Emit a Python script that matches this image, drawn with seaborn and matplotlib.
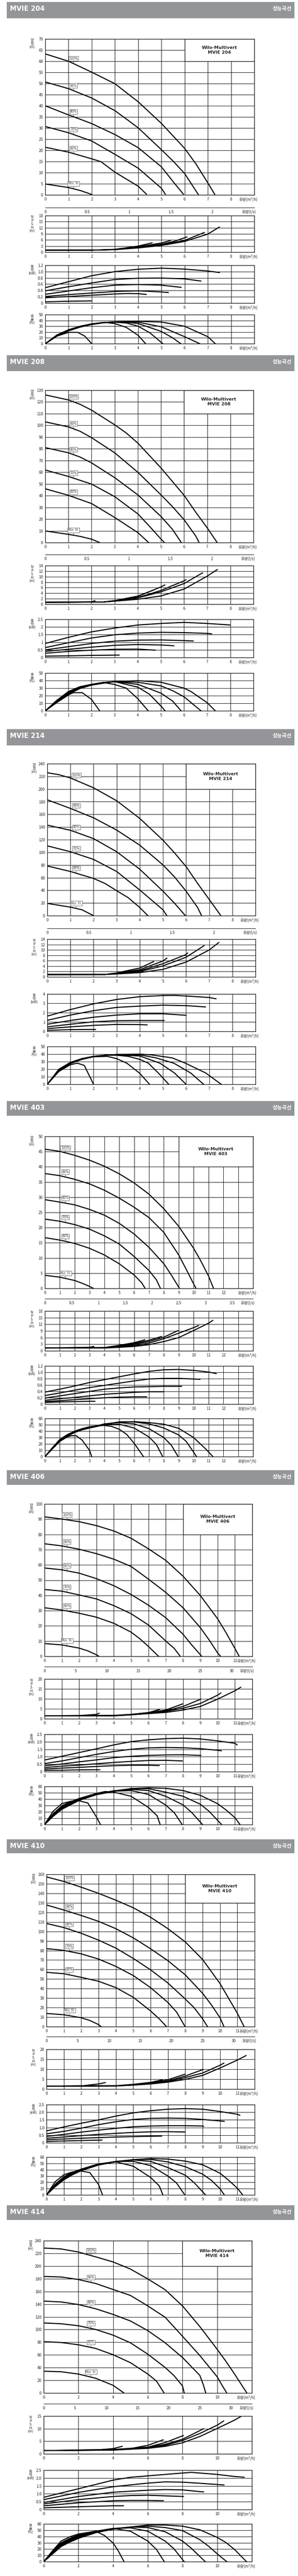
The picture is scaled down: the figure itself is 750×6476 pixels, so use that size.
"""Wilo-Multivert MVIE performance curves (성능곡선), seven models on one tall page."""

import matplotlib

matplotlib.use("Agg")

import matplotlib.pyplot as plt
import numpy as np
import pandas as pd
import seaborn as sns
from matplotlib.patches import Rectangle

# ---------------------------------------------------------------- data
MODELS = ["MVIE 204", "MVIE 208", "MVIE 214", "MVIE 403", "MVIE 406", "MVIE 410", "MVIE 414"]
SPEEDS = ["100%", "90%", "80%", "70%", "60%", "Min. Fr."]

# (flow m3/h, value) pairs
H204 = {
    "100%": [(0, 63.3), (1, 60.0), (2, 55.1), (3, 49.9), (4, 41.8), (5, 32.1), (6, 20.9), (6.5, 13.7), (7, 5.4), (7.3, 0.2)],
    "90%": [(0, 50.7), (1, 47.7), (2, 43.5), (3, 37.8), (3.5, 34.0), (4, 30.1), (5, 20.3), (5.5, 15.2), (6, 9.6), (6.6, 0)],
    "80%": [(0, 40.0), (1, 35.9), (1.5, 34.0), (2, 32.0), (3, 27.1), (4, 21.2), (5, 12.6), (5.5, 6.0), (5.95, 0.3)],
    "70%": [(0, 30.7), (1, 27.9), (2, 24.2), (3, 18.2), (4, 12.0), (4.5, 7.5), (5, 3.0), (5.17, 0.3)],
    "60%": [(0, 21.4), (1, 19.2), (2, 16.2), (2.4, 14.9), (3, 10.2), (4, 3.9), (4.36, 0.3)],
    "Min. Fr.": [(0, 4.9), (1, 3.3), (1.5, 2.0), (2, 0.2)],
}
N204 = {
    "100%": [(0, 1.0), (2, 1.0), (3, 1.25), (4, 2.1), (5, 3.3), (6, 5.3), (7, 8.9), (7.5, 12.4)],
    "90%": [(0, 1.0), (2, 1.0), (3, 1.3), (4, 2.3), (5, 3.6), (6, 5.8), (6.85, 9.7)],
    "80%": [(0, 1.0), (2, 1.0), (3, 1.3), (4, 2.4), (5, 3.9), (5.6, 5.5), (6.1, 7.5)],
    "70%": [(0, 1.0), (2, 1.0), (3, 1.35), (4, 2.7), (5, 4.5), (5.4, 5.8)],
    "60%": [(0, 1.0), (2, 1.0), (3, 1.4), (4, 3.0), (4.6, 4.6)],
    "Min. Fr.": [(0, 1.0), (2, 1.05)],
}
P204 = {
    "100%": [(0, 0.49), (1, 0.68), (2, 0.87), (3, 1.0), (4, 1.075), (5, 1.11), (6, 1.08), (7, 1.02), (7.5, 0.97)],
    "90%": [(0, 0.39), (1, 0.52), (2, 0.64), (3, 0.75), (4, 0.79), (5, 0.795), (6, 0.77), (6.7, 0.70)],
    "80%": [(0, 0.28), (1, 0.385), (2, 0.49), (3, 0.57), (4, 0.59), (5, 0.57), (5.85, 0.50)],
    "70%": [(0, 0.21), (1, 0.27), (2, 0.32), (3, 0.37), (4, 0.39), (5, 0.355), (5.3, 0.335)],
    "60%": [(0, 0.17), (1, 0.21), (2, 0.25), (3, 0.29), (3.5, 0.305), (4, 0.30), (4.35, 0.275)],
    "Min. Fr.": [(0, 0.04), (1, 0.06), (2, 0.07)],
}
E204 = {
    "100%": [(0, 0), (0.5, 13), (1, 22), (1.5, 28.5), (2, 33), (2.5, 36), (3, 37.5), (3.5, 38), (4, 38.5), (5, 37.3), (6, 30), (7, 12), (7.32, 0)],
    "90%": [(0, 0), (0.5, 13.5), (1, 22.5), (1.5, 29), (2, 33.5), (2.5, 36), (3, 37.5), (3.5, 38), (4, 37), (5, 29), (6, 12), (6.65, 0)],
    "80%": [(0, 0), (0.5, 14), (1, 23), (1.5, 29.5), (2, 34), (2.5, 36.5), (3, 37.5), (3.5, 37), (4, 34.6), (5, 21), (5.5, 9.7), (5.83, 0)],
    "70%": [(0, 0), (0.5, 14.5), (1, 23.5), (1.5, 30), (2, 34), (2.5, 36.5), (3, 37), (3.5, 35.5), (4, 30), (4.5, 18.8), (5.06, 0)],
    "60%": [(0, 0), (0.5, 15), (1, 24), (1.5, 30), (2, 34), (2.6, 36.5), (3, 34.6), (3.5, 27.8), (4, 14.3), (4.32, 0)],
    "Min. Fr.": [(0, 0), (0.5, 13), (1, 19.5), (1.4, 19.5), (1.7, 13), (2, 0)],
}

H208 = {
    "100%": [(0, 126), (1, 121.7), (1.5, 118), (2, 113), (3, 100.5), (3.5, 93.5), (4, 84.9), (5, 63.7), (6, 40.3), (6.5, 26), (7, 12.5), (7.43, 0)],
    "90%": [(0, 103), (1, 98.7), (1.5, 95), (2, 89.5), (3, 76.6), (4, 60), (5, 40.7), (5.5, 30.6), (6, 19.5), (6.5, 5.7), (6.65, 0)],
    "80%": [(0, 81), (1, 76.6), (1.5, 73), (2, 68), (3, 55.4), (4, 40.7), (5, 22.3), (5.5, 11.2), (5.88, 0)],
    "70%": [(0, 61.9), (1, 56.4), (2, 49.9), (3, 39.2), (4, 24.5), (4.5, 14), (5, 3), (5.15, 0)],
    "60%": [(0, 45.9), (1, 40.3), (2, 33.3), (3, 21.4), (4, 8.5), (4.47, 0)],
    "Min. Fr.": [(0, 9.9), (1, 7), (1.5, 5.3), (2, 2.9), (2.35, 0)],
}
N208 = {
    "100%": [(0, 0.7), (2.5, 0.8), (3, 1.1), (4, 1.8), (5, 3.0), (6, 5.5), (7, 10.2), (7.44, 12.6)],
    "90%": [(0, 0.7), (2.5, 0.8), (3, 1.2), (4, 2.3), (5, 4.5), (6, 7.5), (6.8, 11.4)],
    "80%": [(0, 0.7), (2.5, 0.8), (3, 1.2), (4, 2.4), (5, 5.0), (6, 8.5), (6.08, 8.9)],
    "70%": [(0, 0.7), (2.5, 0.8), (3, 1.25), (4, 2.8), (5, 6.3), (5.17, 7.0)],
    "60%": [(0, 0.7), (2.5, 0.8), (3, 1.3), (4, 2.95), (4.69, 5.2)],
    "Min. Fr.": [(0, 0.7), (2, 0.9), (2.15, 1.25)],
}
P208 = {
    "100%": [(0, 0.92), (1, 1.32), (2, 1.68), (3, 1.93), (4, 2.13), (5, 2.23), (6, 2.30), (7, 2.23), (8, 2.13)],
    "90%": [(0, 0.65), (1, 0.97), (2, 1.28), (3, 1.49), (4, 1.6), (5, 1.65), (6, 1.63), (7, 1.58), (7.19, 1.55)],
    "80%": [(0, 0.5), (1, 0.71), (2, 0.92), (3, 1.07), (4, 1.14), (5, 1.15), (6, 1.11), (6.4, 1.08)],
    "70%": [(0, 0.4), (1, 0.54), (2, 0.68), (3, 0.8), (4, 0.85), (5, 0.82), (5.56, 0.77)],
    "60%": [(0, 0.28), (1, 0.4), (2, 0.48), (3, 0.54), (4, 0.55), (4.76, 0.48)],
    "Min. Fr.": [(0, 0.09), (1, 0.11), (2, 0.14), (3.2, 0.16)],
}
E208 = {
    "100%": [(0, 0), (0.5, 12), (1, 22), (1.5, 29.5), (2, 34), (2.5, 36.5), (3, 38.5), (4, 39.9), (5, 37.8), (6, 30), (6.3, 25.5), (7, 10.7), (7.35, 0)],
    "90%": [(0, 0), (0.5, 12.5), (1, 23), (1.5, 30), (2, 34.5), (2.5, 37), (3, 38.6), (4, 37.8), (5, 33), (5.5, 26.7), (6, 18.5), (6.73, 0)],
    "80%": [(0, 0), (0.5, 13), (1, 24), (1.5, 31), (2, 35), (2.5, 37.5), (3, 38.8), (4, 35), (5, 23.4), (5.5, 13), (5.87, 0)],
    "70%": [(0, 0), (0.5, 13.5), (1, 25), (1.5, 31.5), (2, 35), (2.5, 37.5), (3, 38.6), (4, 31.3), (4.5, 22), (5, 6.3), (5.18, 0)],
    "60%": [(0, 0), (0.5, 14), (1, 25.5), (1.5, 32), (2, 35), (2.6, 37), (3, 34.8), (3.5, 30), (4, 16), (4.45, 0)],
    "Min. Fr.": [(0, 0), (0.5, 11), (1, 21), (1.2, 24), (1.6, 24), (2, 15), (2.35, 0)],
}

H214 = {
    "100%": [(0, 225.8), (0.5, 222.7), (1, 217.5), (2, 202), (3, 181.5), (4, 153.5), (5, 119.3), (5.5, 99.2), (6, 77.5), (6.5, 50.8), (7, 25.6), (7.49, 0.7)],
    "90%": [(0, 183), (1, 169.4), (2, 154.6), (3, 135.2), (4, 111.3), (5, 80.2), (5.5, 61.2), (6, 38.7), (6.5, 12.8), (6.67, 0)],
    "80%": [(0, 143), (1, 134.9), (2, 121.7), (3, 101), (4, 73.3), (5, 38.7), (5.5, 19.7), (5.97, 0)],
    "70%": [(0, 110.3), (1, 101), (2, 88.9), (3, 69.8), (4, 40.5), (4.5, 24.9), (5, 9.3), (5.17, 0)],
    "60%": [(0, 78.5), (1, 69.8), (2, 58.8), (2.5, 50.8), (3, 39.4), (3.5, 28.4), (4, 12.8), (4.35, 0)],
    "Min. Fr.": [(0, 19.4), (1, 13.5), (1.5, 9.3), (2.0, 0)],
}
N214 = {
    "100%": [(0, 0.9), (2.5, 0.9), (3, 1.1), (4, 1.6), (5, 2.8), (6, 5.5), (7, 10), (7.42, 12.8)],
    "90%": [(0, 0.9), (2.5, 0.9), (3, 1.2), (4, 2.0), (5, 4.1), (6, 7.3), (6.78, 11.6)],
    "80%": [(0, 0.9), (2.5, 0.9), (3, 1.3), (4, 2.3), (5, 4.9), (6, 8.3), (6.07, 8.9)],
    "70%": [(0, 0.9), (2.5, 0.9), (3, 1.4), (4, 2.7), (5, 5.9), (5.17, 7.0)],
    "60%": [(0, 0.9), (2.5, 0.9), (3, 1.5), (4, 3.3), (4.6, 5.7)],
    "Min. Fr.": [(0, 0.8), (2, 0.9), (2.1, 1.05)],
}
P214 = {
    "100%": [(0, 1.64), (1, 2.34), (2, 2.95), (3, 3.42), (4, 3.72), (5, 3.84), (5.5, 3.86), (6, 3.79), (7, 3.63), (7.3, 3.49)],
    "90%": [(0, 1.19), (1, 1.75), (2, 2.22), (3, 2.57), (4, 2.71), (5, 2.81), (6, 2.76), (6.84, 2.62)],
    "80%": [(0, 0.77), (1, 1.17), (2, 1.52), (3, 1.75), (4, 1.89), (5, 1.89), (6, 1.73)],
    "70%": [(0, 0.49), (1, 0.77), (2, 1.03), (3, 1.15), (4, 1.17), (5, 1.17), (5.06, 1.17)],
    "60%": [(0, 0.3), (1, 0.49), (2, 0.65), (3, 0.75), (4, 0.73), (4.32, 0.7)],
    "Min. Fr.": [(0, 0.12), (1, 0.19), (2, 0.21), (2.09, 0.21)],
}
E214 = {
    "100%": [(0, 0), (0.5, 18), (1, 27.5), (1.5, 33), (2, 36.5), (2.5, 38.5), (3, 39.5), (4, 40), (4.5, 39), (5.4, 35), (5.97, 28), (6.85, 15), (7.52, 0)],
    "90%": [(0, 0), (0.5, 18.5), (1, 28), (1.5, 33.5), (2, 37), (2.5, 38.5), (3, 39.5), (4, 39), (4.7, 35), (5.47, 28), (6.2, 15), (6.76, 0)],
    "80%": [(0, 0), (0.5, 19), (1, 28.5), (1.5, 34), (2, 37), (2.5, 38.5), (3, 39), (4, 37.5), (4.87, 28), (5.5, 15), (6.0, 0)],
    "70%": [(0, 0), (0.5, 19.5), (1, 29), (1.5, 34), (2, 37), (2.5, 38.5), (3, 38.5), (3.5, 37), (4, 33), (4.37, 28), (4.8, 15), (5.25, 0)],
    "60%": [(0, 0), (0.5, 20), (1, 29), (1.5, 34), (2, 36.5), (2.6, 37), (3, 34), (3.44, 28), (4, 14.5), (4.42, 0)],
    "Min. Fr.": [(0, 0), (0.5, 17), (1, 26), (1.3, 28), (1.6, 25), (2.0, 0)],
}

H403 = {
    "100%": [(0, 45.8), (1, 45.1), (2, 43.8), (3, 42.2), (4, 40.2), (5, 37.7), (6, 34.7), (7, 31.0), (8, 26.2), (9, 20.4), (10, 13.2), (10.5, 8.9), (11, 4.1), (11.34, 0)],
    "90%": [(0, 37.8), (1, 37.1), (2, 35.9), (3, 34.4), (4, 32.3), (5, 29.7), (6, 26.7), (7, 23.3), (8, 18.4), (9, 11.0), (9.5, 6.3), (10, 1.5), (10.16, 0)],
    "80%": [(0, 29.2), (1, 28.4), (2, 27.5), (3, 26.0), (4, 24.1), (5, 21.4), (6, 17.9), (7, 13.5), (8, 8.1), (8.5, 4.4), (9.05, 0)],
    "70%": [(0, 22.8), (1, 22.1), (2, 21.0), (3, 19.5), (4, 17.3), (5, 14.6), (6, 10.5), (7, 5.9), (7.5, 2.8), (7.77, 0)],
    "60%": [(0, 16.7), (1, 15.9), (2, 14.8), (3, 13.2), (4, 11.0), (5, 8.1), (6, 4.4), (6.5, 1.9), (6.74, 0)],
    "Min. Fr.": [(0, 4.3), (1, 3.7), (2, 2.6), (2.5, 1.7), (3, 0.65), (3.27, 0)],
}
N403 = {
    "100%": [(0, 1.3), (4, 1.3), (5, 1.6), (6, 2.0), (7, 2.8), (8, 4.2), (9, 6.0), (10, 9.2), (11, 12.5), (11.29, 13.8)],
    "90%": [(0, 1.3), (4, 1.3), (5, 1.7), (6, 2.4), (7, 3.5), (8, 5.5), (9, 8.0), (10, 10.5), (10.34, 11.5)],
    "80%": [(0, 1.3), (4, 1.4), (5, 1.9), (6, 2.9), (7, 4.2), (8, 6.2), (8.96, 9.2)],
    "70%": [(0, 1.3), (4, 1.4), (5, 2.2), (6, 3.3), (7, 4.8), (7.85, 6.5)],
    "60%": [(0, 1.3), (4, 1.5), (5, 2.5), (6, 3.7), (6.72, 5.0)],
    "Min. Fr.": [(0, 1.3), (3, 1.6), (3.3, 2.0)],
}
P403 = {
    "100%": [(0, 0.38), (1, 0.47), (2, 0.57), (3, 0.68), (4, 0.77), (5, 0.86), (6, 0.95), (7, 1.03), (8, 1.08), (9, 1.09), (10, 1.06), (11, 1.01), (11.53, 0.96)],
    "90%": [(0, 0.27), (1, 0.35), (2, 0.44), (3, 0.52), (4, 0.59), (5, 0.66), (6, 0.73), (7, 0.79), (8, 0.81), (9, 0.81), (10, 0.79), (10.43, 0.78)],
    "80%": [(0, 0.19), (1, 0.26), (2, 0.33), (3, 0.4), (4, 0.47), (5, 0.51), (6, 0.54), (7, 0.55), (8, 0.56), (9, 0.56), (9.2, 0.56)],
    "70%": [(0, 0.12), (1, 0.17), (2, 0.21), (3, 0.26), (4, 0.31), (5, 0.34), (6, 0.37), (7, 0.39), (8, 0.39)],
    "60%": [(0, 0.08), (1, 0.11), (2, 0.14), (3, 0.17), (4, 0.2), (5, 0.22), (6, 0.23), (6.85, 0.23)],
    "Min. Fr.": [(0, 0.055), (1, 0.07), (2, 0.08), (3, 0.09), (3.37, 0.09)],
}
E403 = {
    "100%": [(0, 0), (0.5, 12), (1, 24), (1.5, 32), (2, 38), (2.5, 42), (3, 45), (3.5, 47.5), (4, 50), (5, 54.5), (6, 55), (7, 53.5), (8, 51), (9, 44.5), (10, 30), (10.84, 11.5), (11.3, 0)],
    "90%": [(0, 0), (0.5, 12.5), (1, 25), (1.5, 33), (2, 39), (2.5, 43), (3, 45.5), (3.5, 48), (4, 51), (5, 54.5), (6, 54.5), (7, 51.5), (8, 45), (9, 34), (9.5, 24), (10, 7), (10.2, 0)],
    "80%": [(0, 0), (0.5, 13), (1, 26), (1.5, 33.5), (2, 39.5), (2.5, 43), (3, 46), (3.5, 48.5), (4, 51.5), (5, 53.5), (6, 51.5), (7, 44), (8, 30), (8.5, 18), (8.96, 0)],
    "70%": [(0, 0), (0.5, 13.5), (1, 26.5), (1.5, 34), (2, 40), (2.5, 43.5), (3, 46.5), (3.5, 48.5), (4, 50), (5, 51), (6, 45), (7, 31), (7.5, 19), (7.92, 0)],
    "60%": [(0, 0), (0.5, 14), (1, 27), (1.5, 34.5), (2, 40), (2.5, 44), (3, 47), (3.5, 48.5), (4, 49), (4.5, 47.5), (5, 43), (5.5, 35), (6, 21), (6.63, 0)],
    "Min. Fr.": [(0, 0), (0.5, 13), (1, 24), (1.5, 31), (1.8, 33), (2.1, 33), (2.5, 26), (3, 10), (3.15, 0)],
}

H406 = {
    "100%": [(0, 91.6), (1, 90.1), (2, 88.4), (3, 85.8), (4, 82.3), (5, 77.5), (6, 70.6), (7, 63.0), (8, 52.6), (9, 39.9), (10, 24.6), (10.5, 15.2), (11, 5.1), (11.24, 0)],
    "90%": [(0, 73.9), (1, 72.5), (2, 70.3), (3, 67.4), (4, 63.8), (5, 59.0), (6, 50.7), (7, 42.0), (8, 31.9), (9, 18.8), (9.5, 10.9), (10, 2.2), (10.17, 0)],
    "80%": [(0, 58.0), (1, 56.8), (2, 54.6), (3, 51.0), (4, 46.4), (5, 40.6), (6, 33.6), (7, 25.4), (8, 14.5), (8.5, 7.5), (9.08, 0)],
    "70%": [(0, 43.9), (1, 42.8), (2, 40.3), (3, 37.7), (4, 33.3), (5, 28.0), (6, 20.6), (7, 10.1), (7.5, 5.1), (7.84, 0)],
    "60%": [(0, 31.9), (1, 30.4), (2, 28.3), (3, 25.7), (4, 21.7), (5, 15.9), (5.5, 11.6), (6, 6.5), (6.59, 0)],
    "Min. Fr.": [(0, 8.4), (1, 7.5), (2, 5.4), (2.5, 3.6), (3, 1.0), (3.14, 0)],
}
N406 = {
    "100%": [(0, 1.5), (4, 1.5), (5, 2.0), (6, 2.6), (7, 3.2), (8, 4.4), (9, 6.2), (10, 9.9), (11, 14.1), (11.34, 15.9)],
    "90%": [(0, 1.5), (4, 1.5), (5, 2.0), (6, 2.8), (7, 3.7), (8, 5.3), (9, 7.7), (10, 11.9), (10.19, 13.0)],
    "80%": [(0, 1.5), (4, 1.6), (5, 2.1), (6, 3.0), (7, 4.0), (8, 6.2), (9.03, 9.9)],
    "70%": [(0, 1.5), (4, 1.6), (5, 2.2), (6, 3.1), (7, 4.4), (7.98, 7.5)],
    "60%": [(0, 1.5), (4, 1.7), (5, 2.2), (6, 3.1), (6.66, 4.75)],
    "Min. Fr.": [(0, 1.5), (2, 1.6), (3, 2.2), (3.16, 2.8)],
}
P406 = {
    "100%": [(0, 0.78), (1, 1.03), (2, 1.28), (3, 1.53), (4, 1.79), (5, 2.01), (6, 2.13), (7, 2.21), (8, 2.24), (9, 2.19), (10, 2.06), (11, 1.9), (11.12, 1.79)],
    "90%": [(0, 0.54), (1, 0.72), (2, 0.94), (3, 1.16), (4, 1.35), (5, 1.5), (6, 1.59), (7, 1.62), (8, 1.6), (9, 1.54), (10, 1.43), (10.22, 1.4)],
    "80%": [(0, 0.4), (1, 0.51), (2, 0.66), (3, 0.79), (4, 0.94), (5, 1.03), (6, 1.09), (7, 1.12), (8, 1.13), (9, 1.09), (9.03, 1.09)],
    "70%": [(0, 0.28), (1, 0.37), (2, 0.44), (3, 0.53), (4, 0.62), (5, 0.69), (6, 0.75), (7, 0.76), (7.97, 0.72)],
    "60%": [(0, 0.18), (1, 0.24), (2, 0.29), (3, 0.35), (4, 0.4), (5, 0.43), (6, 0.43), (6.63, 0.41)],
    "Min. Fr.": [(0, 0.09), (1, 0.1), (2, 0.12), (3, 0.13), (3.2, 0.13)],
}
E406 = {
    "100%": [(0, 0), (0.5, 13), (1, 24), (1.5, 31), (2, 38), (3, 47), (4, 52), (5, 56.7), (6, 57.8), (7, 57), (8, 53.5), (9, 46), (10, 32.8), (10.5, 22.7), (11, 10.8), (11.29, 0)],
    "90%": [(0, 0), (0.5, 14), (1, 25), (1.5, 32), (2, 39), (3, 48), (4, 53), (5, 56.4), (6, 56.4), (7, 51), (8, 44.5), (9, 32), (9.5, 21), (10.23, 0)],
    "80%": [(0, 0), (0.5, 15), (1, 26.5), (1.5, 33.5), (2, 40), (3, 48.5), (4, 53), (5, 55.3), (6, 53.5), (7, 44.5), (8, 31), (8.5, 19), (9.13, 0)],
    "70%": [(0, 0), (0.5, 16), (1, 28), (1.5, 35), (2, 40.5), (3, 49), (4, 52.5), (5, 53.5), (6, 47.4), (7, 30.8), (7.5, 18.4), (7.95, 0)],
    "60%": [(0, 0), (0.5, 17), (1, 29.5), (1.5, 36), (2, 41), (3, 49), (3.5, 52), (4, 51), (5, 44.5), (6, 27), (6.5, 14), (6.68, 0)],
    "Min. Fr.": [(0, 0), (0.5, 21), (1, 33), (1.5, 36.5), (1.9, 38), (2.5, 34), (3, 12), (3.23, 0)],
}

H410 = {
    "100%": [(0, 157.3), (1, 152.5), (2, 146.5), (3, 140), (4, 132.8), (5, 124.9), (6, 114.9), (7, 102.9), (8, 89), (9, 70.5), (10, 45.3), (10.5, 29.7), (11, 14.1), (11.39, 0)],
    "90%": [(0, 127.8), (1, 122.5), (2, 116.8), (3, 110.6), (4, 102.9), (5, 93.3), (6, 81.8), (7, 69.3), (8, 54.4), (9, 35), (9.5, 23), (10, 9.4), (10.23, 0)],
    "80%": [(0, 108.4), (1, 104.1), (2, 98.1), (3, 90.9), (4, 82.5), (5, 71.7), (6, 59.7), (7, 45.8), (8, 29), (8.5, 20.1), (9, 8.2), (9.28, 0)],
    "70%": [(0, 82), (1, 80.1), (2, 76.5), (3, 71), (4, 63.3), (5, 53.7), (6, 41), (7, 25.4), (7.5, 15.3), (7.99, 0)],
    "60%": [(0, 57.1), (1, 55.6), (2, 51.8), (3, 47.7), (4, 41), (5, 30.9), (6, 16.5), (6.5, 8.2), (6.92, 0)],
    "Min. Fr.": [(0, 13.9), (1, 12.5), (2, 9.4), (2.5, 6.5), (3, 2.2), (3.15, 0)],
}
N410 = {
    "100%": [(0, 1.5), (4, 1.6), (5, 2.0), (6, 2.6), (7, 3.5), (8, 4.9), (9, 6.9), (10, 10.6), (11, 14.6), (11.51, 16.9)],
    "90%": [(0, 1.5), (4, 1.6), (5, 2.1), (6, 2.8), (7, 3.8), (8, 5.8), (9, 8.1), (10, 12.0), (10.23, 13.1)],
    "80%": [(0, 1.5), (4, 1.6), (5, 2.2), (6, 3.0), (7, 4.1), (8, 6.6), (9.04, 9.9)],
    "70%": [(0, 1.5), (4, 1.7), (5, 2.3), (6, 3.2), (7, 4.7), (7.98, 7.5)],
    "60%": [(0, 1.5), (4, 1.7), (5, 2.4), (6, 3.4), (6.68, 4.7)],
    "Min. Fr.": [(0, 1.5), (2, 1.6), (3, 2.6), (3.4, 3.3)],
}
P410 = {
    "100%": [(0, 0.78), (1, 1.04), (2, 1.28), (3, 1.5), (4, 1.75), (5, 1.96), (6, 2.1), (7, 2.2), (8, 2.24), (9, 2.2), (10, 2.05), (11, 1.87), (11.15, 1.8)],
    "90%": [(0, 0.59), (1, 0.75), (2, 0.96), (3, 1.19), (4, 1.38), (5, 1.53), (6, 1.6), (7, 1.62), (8, 1.6), (9, 1.53), (10, 1.43), (10.25, 1.41)],
    "80%": [(0, 0.42), (1, 0.55), (2, 0.7), (3, 0.83), (4, 0.95), (5, 1.05), (6, 1.1), (7, 1.12), (8, 1.12), (9, 1.1), (9.06, 1.08)],
    "70%": [(0, 0.3), (1, 0.38), (2, 0.47), (3, 0.55), (4, 0.62), (5, 0.68), (6, 0.72), (7, 0.73), (7.97, 0.71)],
    "60%": [(0, 0.2), (2, 0.3), (4, 0.38), (6, 0.43), (6.64, 0.44)],
    "Min. Fr.": [(0, 0.09), (1, 0.12), (2, 0.15), (3.2, 0.18)],
}
E410 = {
    "100%": [(0, 0), (0.5, 13), (1, 24), (1.5, 32), (2, 38.5), (3, 47.5), (4, 52.5), (5, 56), (6, 57.8), (7, 56.9), (8, 53.7), (9, 47.9), (10, 34.5), (10.5, 23.3), (11, 10.7), (11.31, 0)],
    "90%": [(0, 0), (0.5, 14), (1, 25.5), (1.5, 33), (2, 39.5), (3, 48), (4, 53), (5, 56), (6, 56.4), (7, 52.4), (8, 44.8), (9, 33), (9.5, 23.3), (10, 9.9), (10.25, 0)],
    "80%": [(0, 0), (0.5, 15), (1, 27), (1.5, 34.5), (2, 40), (3, 48.5), (4, 53.3), (5, 55.5), (6, 53.3), (7, 43.4), (8, 31.3), (8.5, 19.7), (9.17, 0)],
    "70%": [(0, 0), (0.5, 16), (1, 28), (1.5, 35.5), (2, 40.5), (3, 49), (4, 53), (5, 53.3), (6, 46.6), (7, 30), (7.5, 18.8), (7.97, 0)],
    "60%": [(0, 0), (0.5, 17), (1, 29), (1.5, 36), (2, 41), (3, 49.3), (4, 52.4), (5, 45.7), (6, 27.8), (6.5, 14.3), (6.71, 0)],
    "Min. Fr.": [(0, 0), (0.5, 21), (1, 32), (1.5, 36.5), (2, 38), (2.5, 35.4), (3, 16.6), (3.23, 0)],
}

H414 = {
    "100%": [(0, 228.4), (1, 227), (2, 222.1), (3, 214.5), (4, 206.5), (5, 195.3), (6, 179.7), (7, 162.7), (8, 137.2), (9, 104.6), (10, 68.8), (10.5, 50), (11, 29.9), (11.71, 0)],
    "90%": [(0, 183.7), (1, 182.8), (2, 178.8), (3, 172.5), (4, 163.1), (5, 153.7), (6, 137.2), (7, 119.3), (8, 89.4), (9, 59), (10, 25.5), (10.3, 11.2), (10.55, 0)],
    "80%": [(0, 144.8), (1, 143.5), (2, 139.4), (3, 132.7), (4, 123.8), (5, 113.5), (6, 98.3), (7, 79.1), (8, 55.9), (9, 27.7), (9.2, 13), (9.34, 0)],
    "70%": [(0, 110.4), (1, 109.1), (2, 106), (3, 100.1), (4, 91.2), (5, 79.1), (6, 61.2), (7, 40.2), (7.5, 27.7), (8, 11.2), (8.1, 0)],
    "60%": [(0, 80.9), (1, 79.6), (2, 76), (3, 70.2), (4, 60.3), (5, 47.8), (6, 29.9), (6.5, 18.8), (6.94, 0)],
    "Min. Fr.": [(0, 34.4), (1, 33.5), (2, 29.9), (3, 23.2), (4, 12.1), (4.63, 0)],
}
N414 = {
    "100%": [(0, 1.3), (4, 1.5), (6, 2.2), (7, 3.0), (8, 4.4), (9, 6.9), (10, 10.1), (11, 13.4), (11.4, 15.0)],
    "90%": [(0, 1.3), (4, 1.5), (6, 2.4), (7, 3.4), (8, 5.3), (9, 8.1), (10, 11.4), (10.38, 13.1)],
    "80%": [(0, 1.3), (4, 1.6), (6, 2.6), (7, 3.8), (8, 5.8), (9.22, 10.0)],
    "70%": [(0, 1.3), (4, 1.7), (6, 2.7), (7, 4.5), (8.06, 7.3)],
    "60%": [(0, 1.3), (4, 1.8), (5, 2.1), (6, 3.4), (6.89, 5.6)],
    "Min. Fr.": [(0, 1.3), (3, 1.5), (4, 2.1), (4.53, 3.0)],
}
P414 = {
    "100%": [(0, 0.78), (2, 1.32), (4, 1.87), (5, 2.05), (6, 2.14), (7, 2.23), (8, 2.32), (8.5, 2.36), (9, 2.32), (10, 2.23), (11, 2.1), (11.56, 2.05)],
    "90%": [(0, 0.63), (2, 1.09), (4, 1.45), (6, 1.68), (7, 1.76), (8, 1.74), (9, 1.67), (10, 1.59), (10.4, 1.56)],
    "80%": [(0, 0.45), (2, 0.83), (4, 1.1), (6, 1.23), (7, 1.27), (8, 1.25), (9, 1.14), (9.22, 1.12)],
    "70%": [(0, 0.36), (2, 0.63), (4, 0.83), (5, 0.89), (6, 0.91), (7, 0.87), (8.06, 0.83)],
    "60%": [(0, 0.24), (2, 0.43), (4, 0.56), (5, 0.58), (6, 0.58), (6.9, 0.56)],
    "Min. Fr.": [(0, 0.11), (2, 0.18), (4, 0.24), (4.6, 0.24)],
}
E414 = {
    "100%": [(0, 0), (0.5, 12), (1, 24), (1.5, 31), (2, 37), (3, 46), (4, 51.5), (5, 55), (6, 58.2), (7, 58.2), (8, 56.4), (9, 50.6), (10, 38.5), (10.5, 30.5), (11, 19.3), (11.69, 0)],
    "90%": [(0, 0), (0.5, 13), (1, 25.5), (1.5, 32.5), (2, 38.5), (3, 47), (4, 52), (5, 55), (6, 56.4), (7, 54.2), (8, 49.3), (9, 34.9), (9.5, 24.6), (10, 12.5), (10.55, 0)],
    "80%": [(0, 0), (0.5, 14), (1, 27), (1.5, 34), (2, 40), (3, 47.5), (4, 52.5), (5, 55), (6, 54.2), (7, 47.5), (8, 32.7), (8.5, 21.5), (9.31, 0)],
    "70%": [(0, 0), (0.5, 15), (1, 28.5), (1.5, 35.5), (2, 41), (3, 48), (4, 52.8), (5, 53.7), (6, 48.4), (7, 32.7), (7.5, 20.6), (8.1, 0)],
    "60%": [(0, 0), (0.5, 16), (1, 30), (1.5, 37), (2, 42.5), (3, 48.4), (4, 52.8), (5, 48.4), (6, 32.7), (6.5, 19.3), (6.95, 0)],
    "Min. Fr.": [(0, 0), (0.5, 17), (1, 32.7), (1.5, 39.5), (2, 43.9), (3, 48.4), (3.5, 41.6), (4, 29.6), (4.3, 17), (4.63, 0)],
}

HEAD = [H204, H208, H214, H403, H406, H410, H414]
NPSH = [N204, N208, N214, N403, N406, N410, N414]
POWER = [P204, P208, P214, P403, P406, P410, P414]
EFF = [E204, E208, E214, E403, E406, E410, E414]

# axis ranges and the second flow scale (l/s) per model
X_MAX = [9, 9, 9, 14, 12, 12, 12]
X_STEP = [1, 1, 1, 1, 1, 1, 2]
X_LAST = [8, 8, 8, 12, 11, 11, 10]
HEAD_AX = [(70, 5), (130, 10), (240, 20), (50, 5), (100, 10), (160, 10), (240, 20)]
NPSH_AX = [(18, 3), (14, 2), (14, 2), (18, 3), (20, 5), (20, 5), (15, 5)]
POWER_AX = [(1.2, 0.2), (2.5, 0.5), (4, 1), (1.2, 0.2), (2.5, 0.5), (2.5, 0.5), (2.5, 0.5)]
POWER_FMT = ["{:.1f}", "{:g}", "{:g}", "{:.1f}", "{:.1f}", "{:.1f}", "{:.1f}"]
EFF_MAX = [50, 50, 50, 60, 60, 60, 60]
LS_TICKS = [[0, 0.5, 1, 1.5, 2]] * 3 + [[0, 0.5, 1, 1.5, 2, 2.5, 3, 3.5]] + [[0, 5, 10, 15, 20, 25, 30]] * 3
LS_PER_UNIT = [3.6, 3.6, 3.6, 3.6, 0.36, 0.36, 0.36]
BOX = [(6, 9, 60, 70), (6, 9, 110, 130), (6, 9, 200, 240), (9, 14, 40, 50),
       (8, 12, 80, 100), (8, 12, 130, 160), (8, 12, 200, 240)]
TAG_Q = [1.22, 1.22, 1.25, 1.38, 1.3, 1.32, 2.72]

# ---------------------------------------------------------------- layout (pixels)
LAYOUT = [
    dict(hdr=(5, 46), x=(114, 640), main=(98, 490), ls=522, npsh=(542, 634), power=(667, 762), eff=(791, 864)),
    dict(hdr=(893, 933), x=(114, 638), main=(981, 1364), ls=1394, npsh=(1422, 1519), power=(1557, 1653), eff=(1692, 1787)),
    dict(hdr=(1833, 1874), x=(119, 643), main=(1920, 2302), ls=2334, npsh=(2361, 2456), power=(2499, 2593), eff=(2631, 2726)),
    dict(hdr=(2768, 2805), x=(113, 637), main=(2857, 3239), ls=3265, npsh=(3296, 3396), power=(3434, 3530), eff=(3566, 3662)),
    dict(hdr=(3696, 3733), x=(112, 635), main=(3781, 4164), ls=4190, npsh=(4221, 4321), power=(4360, 4454), eff=(4491, 4587)),
    dict(hdr=(4624, 4659), x=(117, 641), main=(4712, 5095), ls=5120, npsh=(5152, 5252), power=(5291, 5387), eff=(5423, 5518)),
    dict(hdr=(5544, 5581), x=(110, 634), main=(5633, 6016), ls=6043, npsh=(6074, 6169), power=(6210, 6309), eff=(6345, 6440)),
]

W, H = 750, 6476
HEADER_GRAY = "#939598"
FLOW_LABEL = "유량(m³/h)"

sns.set_style("white")
plt.rcParams["font.family"] = ["Noto Sans CJK KR", "DejaVu Sans"]
plt.rcParams["axes.unicode_minus"] = False

fig = plt.figure(figsize=(W / 100, H / 100), dpi=100)


def add_ax(x, top, bottom):
    left, right = x
    return fig.add_axes([left / W, 1 - bottom / H, (right - left) / W, (bottom - top) / H])


def curves_frame(curves):
    rows = []
    for name, pts in curves.items():
        for q, v in pts:
            rows.append({"curve": name, "q": q, "v": v})
    return pd.DataFrame(rows)


def draw_panel(ax, curves, i, ymax, ystep, fmt, ylabel):
    xmax = X_MAX[i]
    df = curves_frame(curves)
    sns.lineplot(data=df, x="q", y="v", units="curve", estimator=None, sort=False,
                 color="black", linewidth=1.9, ax=ax, legend=False, zorder=3)
    ax.set_xlim(0, xmax)
    ax.set_ylim(0, ymax)
    xt = np.arange(0, xmax + 0.001, X_STEP[i])
    ax.set_xticks(xt)
    ax.set_xticklabels([f"{v:g}" if v <= X_LAST[i] else "" for v in xt])
    yt = np.arange(0, ymax + 1e-6, ystep)
    ax.set_yticks(yt)
    ax.set_yticklabels(["0" if v == 0 else fmt.format(v) for v in yt])
    ax.grid(True, color="black", linewidth=0.8)
    ax.set_axisbelow(True)
    for s in ax.spines.values():
        s.set_color("black")
        s.set_linewidth(1.0)
    ax.tick_params(length=0, labelsize=7, pad=4, colors="#222222")
    ax.set_xlabel("")
    ax.set_ylabel("")
    ax.annotate(FLOW_LABEL, xy=(1.0, 0), xycoords="axes fraction", xytext=(6, -4),
                textcoords="offset points", ha="right", va="top", fontsize=7, color="#222222")
    ax.annotate(ylabel, xy=(0, 1), xycoords="axes fraction", xytext=(-24, 1),
                textcoords="offset points", ha="center", va="top", fontsize=6.5,
                color="#222222", linespacing=1.0)


for i, model in enumerate(MODELS):
    lay = LAYOUT[i]

    # header band
    h0, h1 = lay["hdr"]
    fig.patches.append(Rectangle((17 / W, 1 - h1 / H), (741 - 17) / W, (h1 - h0) / H,
                                 transform=fig.transFigure, facecolor=HEADER_GRAY, edgecolor="none"))
    fig.text(25 / W, 1 - (h0 + 17) / H, model, color="white", fontsize=12, fontweight="bold",
             ha="left", va="center", family=["DejaVu Sans"])
    fig.text(734 / W, 1 - (h0 + 17) / H, "성능곡선", color="white", fontsize=9.5, fontweight="bold",
             ha="right", va="center")

    # head / flow
    ax = add_ax(lay["x"], *lay["main"])
    ymax, ystep = HEAD_AX[i]
    draw_panel(ax, HEAD[i], i, ymax, ystep, "{:g}", "양\n정\n(m)")
    bx0, bx1, by0, by1 = BOX[i]
    ax.add_patch(Rectangle((bx0, by0), bx1 - bx0, by1 - by0, facecolor="white",
                           edgecolor="black", linewidth=1.0, zorder=2))
    ax.text((bx0 + bx1) / 2, (by0 + by1) / 2, f"Wilo-Multivert\n{model}", ha="center", va="center",
            fontsize=8, fontweight="bold", linespacing=1.25, zorder=4, family=["DejaVu Sans"])
    for name in SPEEDS:
        pts = np.array(HEAD[i][name])
        tq = TAG_Q[i]
        ax.annotate(name, xy=(tq, np.interp(tq, pts[:, 0], pts[:, 1])), xytext=(0, 6),
                    textcoords="offset points", ha="center", va="bottom", fontsize=5.5,
                    color="#333333", zorder=5, family=["DejaVu Sans"],
                    bbox=dict(boxstyle="square,pad=0.18", fc="white", ec="#444444", lw=0.6),
                    arrowprops=dict(arrowstyle="wedge,tail_width=0.35,shrink_factor=0.5",
                                    fc="white", ec="#444444", lw=0.6))

    # second flow scale in l/s
    ls_ax = add_ax(lay["x"], lay["ls"] - 1, lay["ls"])
    ls_ax.set_xlim(0, X_MAX[i])
    ls_ax.set_ylim(0, 1)
    ls_ax.set_xticks([t * LS_PER_UNIT[i] if LS_PER_UNIT[i] > 1 else t * LS_PER_UNIT[i] for t in LS_TICKS[i]])
    ls_ax.set_xticklabels([f"{t:g}" for t in LS_TICKS[i]])
    ls_ax.set_yticks([])
    for side in ("top", "left", "right"):
        ls_ax.spines[side].set_visible(False)
    ls_ax.spines["bottom"].set_linewidth(1.0)
    ls_ax.tick_params(axis="x", direction="in", length=3, width=0.8, labelsize=7, pad=4, colors="#222222")
    ls_ax.annotate("유량(l/s)", xy=(1.0, 0), xycoords="axes fraction", xytext=(3, -4),
                   textcoords="offset points", ha="right", va="top", fontsize=7, color="#222222")

    # NPSH
    ax = add_ax(lay["x"], *lay["npsh"])
    ymax, ystep = NPSH_AX[i]
    draw_panel(ax, NPSH[i], i, ymax, ystep, "{:g}", "N\nP\nS\nH\n(m)")

    # power
    ax = add_ax(lay["x"], *lay["power"])
    ymax, ystep = POWER_AX[i]
    draw_panel(ax, POWER[i], i, ymax, ystep, POWER_FMT[i], "동\n력\n(kW)")

    # efficiency
    ax = add_ax(lay["x"], *lay["eff"])
    draw_panel(ax, EFF[i], i, EFF_MAX[i], 10, "{:g}", "효\n율\n(%)")

fig.savefig("out.png", dpi=100, facecolor="white")
plt.close(fig)
